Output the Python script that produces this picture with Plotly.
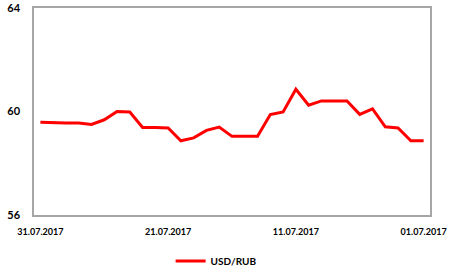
import plotly.graph_objects as go

dates = [f"{d:02d}.07.2017" for d in range(31, 0, -1)]
usd_rub = [59.58, 59.56, 59.56, 59.56, 59.50, 59.68, 60.00, 59.98, 59.38, 59.38,
           59.36, 58.87, 58.98, 59.27, 59.40, 59.04, 59.04, 59.04, 59.88, 59.98,
           60.86, 60.24, 60.41, 60.41, 60.41, 59.89, 60.10, 59.41, 59.36, 58.87, 58.87]
tick_labels = ["31.07.2017", "21.07.2017", "11.07.2017", "01.07.2017"]
y_ticks = [56, 60, 64]

font_family = "Lato, 'Open Sans', Arial, sans-serif"

fig = go.Figure()
fig.add_trace(go.Scatter(
    x=dates, y=usd_rub, mode="lines", name="<b>USD/RUB</b>",
    line=dict(color="#FF0000", width=3),
))

fig.update_layout(
    template="none",
    width=460, height=269,
    margin=dict(l=34, r=30, t=8, b=54, autoexpand=False),
    paper_bgcolor="white", plot_bgcolor="white",
    showlegend=True,
    legend=dict(orientation="h", x=0.345, xanchor="left", y=-0.222, yanchor="middle",
                font=dict(family=font_family, size=10, color="#000000", weight="bold"),
                itemwidth=30, bgcolor="rgba(0,0,0,0)"),
    xaxis=dict(
        automargin=False,
        type="category", categoryorder="array", categoryarray=dates,
        range=[-0.5, len(dates) - 0.5],
        tickmode="array", tickvals=tick_labels, ticktext=[f"<b>{t}</b>" for t in tick_labels],
        tickfont=dict(family=font_family, size=9, color="#000000", weight="bold"),
        showgrid=False, zeroline=False,
        showline=True, linecolor="#A6A6A6", linewidth=1.5, mirror=True,
        ticks="outside", ticklen=7, tickcolor="rgba(0,0,0,0)",
    ),
    yaxis=dict(
        automargin=False,
        range=[56, 64], tickmode="array", tickvals=y_ticks,
        ticktext=[f"<b>{v}</b>" for v in y_ticks],
        tickfont=dict(family=font_family, size=11, color="#000000", weight="bold"),
        showgrid=False, zeroline=False,
        showline=True, linecolor="#A6A6A6", linewidth=1.5, mirror=True,
        ticks="outside", ticklen=10, tickcolor="rgba(0,0,0,0)",
    ),
)

fig.write_html("out.html", config={"displayModeBar": False},
               post_script="document.body.style.margin='0';")
